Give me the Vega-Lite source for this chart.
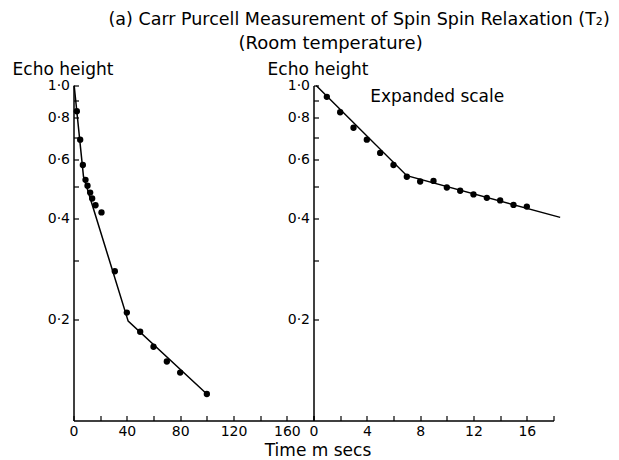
{
  "$schema": "https://vega.github.io/schema/vega-lite/v6.json",
  "background": "white",
  "padding": {"left": 11.5, "top": 10.5, "right": 5, "bottom": 0},
  "title": {
    "text": "(a) Carr Purcell Measurement of Spin Spin Relaxation (T₂)",
    "anchor": "start", "frame": "group", "dx": 35, "offset": 6.5,
    "font": "DejaVu Sans", "fontSize": 17.5, "fontWeight": "normal", "color": "black"
  },
  "spacing": 0,
  "bounds": "flush",
  "hconcat": [
    {
      "width": 240,
      "height": 335,
      "encoding": {
        "x": {
          "field": "t", "type": "quantitative",
          "scale": {"domain": [0, 180], "nice": false, "zero": false},
          "axis": {
            "values": [0, 20, 40, 60, 80, 100, 120, 140, 160, 180],
            "labelExpr": "datum.value % 40 === 0 && datum.value < 170 ? datum.label : ''",
            "title": null
          }
        },
        "y": {
          "field": "h", "type": "quantitative",
          "scale": {"type": "log", "domain": [0.1, 1], "nice": false},
          "axis": {
            "values": [0.2, 0.3, 0.4, 0.5, 0.6, 0.7, 0.8, 0.9, 1],
            "labelExpr": "abs(datum.value * 10 - 2 * round(datum.value * 5)) < 0.01 ? replace(format(datum.value, '.1f'), '.', '·') : ''",
            "title": "Echo height", "titleAngle": 0, "titleAlign": "center", "titleBaseline": "middle",
            "titleX": -11, "titleY": -16.5
          }
        }
      },
      "layer": [
        {
          "data": {"values": [
            {"t": 0.5, "h": 1.0}, {"t": 7.5, "h": 0.535}, {"t": 41, "h": 0.198}, {"t": 100, "h": 0.12}
          ]},
          "mark": {"type": "line", "color": "black", "strokeWidth": 1.5}
        },
        {
          "data": {"values": [
            {"t": 2.5, "h": 0.838}, {"t": 5, "h": 0.689}, {"t": 7, "h": 0.579}, {"t": 9, "h": 0.523},
            {"t": 10.5, "h": 0.502}, {"t": 12.5, "h": 0.479}, {"t": 14, "h": 0.46}, {"t": 16.5, "h": 0.439},
            {"t": 21, "h": 0.418}, {"t": 31, "h": 0.279}, {"t": 40, "h": 0.21}, {"t": 50, "h": 0.184},
            {"t": 60, "h": 0.166}, {"t": 70, "h": 0.15}, {"t": 80, "h": 0.139}, {"t": 100, "h": 0.12}
          ]},
          "mark": {"type": "circle", "color": "black", "size": 40, "opacity": 1}
        }
      ]
    },
    {
      "width": 240,
      "height": 335,
      "title": {
        "text": "(Room temperature)", "anchor": "start", "frame": "group", "dx": -75, "offset": 7.5,
        "font": "DejaVu Sans", "fontSize": 18, "fontWeight": "normal", "color": "black"
      },
      "encoding": {
        "x": {
          "field": "t", "type": "quantitative",
          "scale": {"domain": [0, 18], "nice": false, "zero": false},
          "axis": {
            "values": [0, 2, 4, 6, 8, 10, 12, 14, 16, 18],
            "labelExpr": "datum.value % 4 === 0 ? datum.label : ''",
            "title": "Time  m secs", "titleAlign": "center", "titleBaseline": "middle",
            "titleX": 4, "titleY": 30
          }
        },
        "y": {
          "field": "h", "type": "quantitative",
          "scale": {"type": "log", "domain": [0.1, 1], "nice": false},
          "axis": {
            "values": [0.2, 0.3, 0.4, 0.5, 0.6, 0.7, 0.8, 0.9, 1],
            "labelExpr": "abs(datum.value * 10 - 2 * round(datum.value * 5)) < 0.01 ? replace(format(datum.value, '.1f'), '.', '·') : ''",
            "title": "Echo height", "titleAngle": 0, "titleAlign": "center", "titleBaseline": "middle",
            "titleX": 4, "titleY": -16.5
          }
        }
      },
      "layer": [
        {
          "data": {"values": [
            {"t": 0.2, "h": 1.0}, {"t": 7, "h": 0.538}, {"t": 18.5, "h": 0.404}
          ]},
          "mark": {"type": "line", "color": "black", "strokeWidth": 1.5}
        },
        {
          "data": {"values": [
            {"t": 1, "h": 0.925}, {"t": 2, "h": 0.832}, {"t": 3, "h": 0.748}, {"t": 4, "h": 0.689},
            {"t": 5, "h": 0.629}, {"t": 6, "h": 0.579}, {"t": 7, "h": 0.534}, {"t": 8, "h": 0.517},
            {"t": 9, "h": 0.519}, {"t": 10, "h": 0.496}, {"t": 11, "h": 0.485}, {"t": 12, "h": 0.473},
            {"t": 13, "h": 0.462}, {"t": 14, "h": 0.454}, {"t": 15, "h": 0.44}, {"t": 16, "h": 0.435}
          ]},
          "mark": {"type": "circle", "color": "black", "size": 40, "opacity": 1}
        },
        {
          "data": {"values": [{"t": 4.25, "h": 0.924, "label": "Expanded scale"}]},
          "mark": {"type": "text", "align": "left", "baseline": "middle", "font": "DejaVu Sans", "fontSize": 17, "color": "black"},
          "encoding": {"text": {"field": "label", "type": "nominal"}}
        }
      ]
    }
  ],
  "config": {
    "view": {"stroke": null},
    "font": "DejaVu Sans",
    "axis": {
      "grid": false,
      "domainColor": "black", "domainWidth": 1.5,
      "tickColor": "black", "tickWidth": 1.2, "tickSize": -5,
      "labelFont": "DejaVu Sans", "labelFontSize": 14, "labelColor": "black",
      "labelFlush": false, "labelOverlap": false, "labelBound": false,
      "titleFont": "DejaVu Sans", "titleFontSize": 17, "titleFontWeight": "normal", "titleColor": "black"
    },
    "axisX": {"labelPadding": 8.5},
    "axisY": {"labelPadding": 9}
  }
}
